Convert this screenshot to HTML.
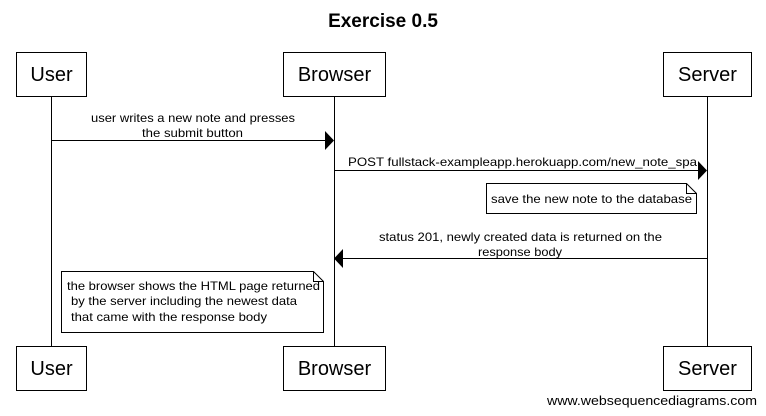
<!DOCTYPE html>
<html><head><style>
html,body{margin:0;padding:0;background:#fff;}
svg{display:block;font-family:"Liberation Sans",Arial,sans-serif;}
</style></head><body>
<svg width="766" height="416" viewBox="0 0 766 416" xmlns="http://www.w3.org/2000/svg" xml:space="preserve">
<rect width="766" height="416" fill="#fff"/>
<text x="383" y="27" text-anchor="middle" font-size="19" font-weight="bold">Exercise 0.5</text>
<g stroke="#000" stroke-width="1" fill="#fff">
<line x1="51.5" y1="96" x2="51.5" y2="346"/>
<line x1="334.5" y1="96" x2="334.5" y2="346"/>
<line x1="707.5" y1="96" x2="707.5" y2="346"/>
<rect x="16.5" y="52.5" width="70" height="44"/>
<rect x="283.5" y="52.5" width="102" height="44"/>
<rect x="663.5" y="52.5" width="88" height="44"/>
<rect x="16.5" y="346.5" width="70" height="44"/>
<rect x="283.5" y="346.5" width="102" height="44"/>
<rect x="663.5" y="346.5" width="88" height="44"/>
<line x1="51.5" y1="140.5" x2="326" y2="140.5"/>
<line x1="334.5" y1="170.5" x2="699" y2="170.5"/>
<line x1="343" y1="258.5" x2="707.5" y2="258.5"/>
<path d="M486.5 183.5 H686.5 L696.5 193.5 V213.5 H486.5 Z"/>
<path d="M686.5 183.5 V193.5 H696.5" fill="none"/>
<path d="M61.5 271.5 H313.5 L323.5 281.5 V332.5 H61.5 Z"/>
<path d="M313.5 271.5 V281.5 H323.5" fill="none"/>
</g>
<g fill="#000">
<path d="M325 131 L334 140.5 L325 150 Z"/>
<path d="M698 161 L707 170.5 L698 180 Z"/>
<path d="M343 249 L334 258.5 L343 268 Z"/>
</g>
<g font-size="20" text-anchor="middle">
<text x="51.5" y="81">User</text>
<text x="334.5" y="81">Browser</text>
<text x="707.5" y="81">Server</text>
<text x="51.5" y="375">User</text>
<text x="334.5" y="375">Browser</text>
<text x="707.5" y="375">Server</text>
</g>
<g font-size="12">
<text x="91" y="122" textLength="204" lengthAdjust="spacingAndGlyphs">user writes a new note and presses</text>
<text x="142" y="137" textLength="101" lengthAdjust="spacingAndGlyphs">the submit button</text>
<text x="348" y="166" textLength="349" lengthAdjust="spacingAndGlyphs">POST  fullstack-exampleapp.herokuapp.com/new_note_spa</text>
<text x="379" y="241" textLength="283" lengthAdjust="spacingAndGlyphs">status 201, newly created data is returned on the</text>
<text x="478" y="256" textLength="84" lengthAdjust="spacingAndGlyphs">response body</text>
<text x="491" y="203" textLength="201" lengthAdjust="spacingAndGlyphs">save the new note to the database</text>
<text x="67" y="290" textLength="253" lengthAdjust="spacingAndGlyphs">the browser shows the HTML page returned</text>
<text x="71" y="305" textLength="226" lengthAdjust="spacingAndGlyphs">by the server including the newest data</text>
<text x="71" y="321" textLength="196" lengthAdjust="spacingAndGlyphs">that came with the response body</text>
</g>
<text x="547" y="405" font-size="13" textLength="210" lengthAdjust="spacingAndGlyphs">www.websequencediagrams.com</text>
</svg>
</body></html>
